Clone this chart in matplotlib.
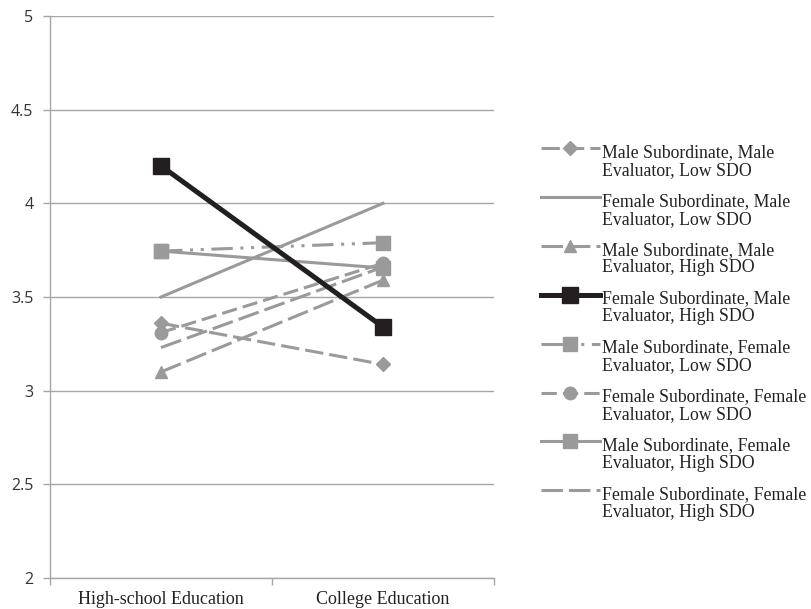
import matplotlib
matplotlib.use("Agg")
import matplotlib.pyplot as plt
from matplotlib.ticker import FixedLocator
from matplotlib.legend_handler import HandlerLine2D
from matplotlib.transforms import Affine2D

categories = ["High-school Education", "College Education"]

series_labels = [
    "Male Subordinate, Male\nEvaluator, Low SDO",
    "Female Subordinate, Male\nEvaluator, Low SDO",
    "Male Subordinate, Male\nEvaluator, High SDO",
    "Female Subordinate, Male\nEvaluator, High SDO",
    "Male Subordinate, Female\nEvaluator, Low SDO",
    "Female Subordinate, Female\nEvaluator, Low SDO",
    "Male Subordinate, Female\nEvaluator, High SDO",
    "Female Subordinate, Female\nEvaluator, High SDO",
]

ms_me_low = [3.36, 3.14]
fs_me_low = [3.50, 4.00]
ms_me_high = [3.10, 3.59]
fs_me_high = [4.20, 3.34]
ms_fe_low = [3.745, 3.79]
fs_fe_low = [3.31, 3.68]
ms_fe_high = [3.745, 3.655]
fs_fe_high = [3.23, 3.66]

yticks = [2, 2.5, 3, 3.5, 4, 4.5, 5]

GRAY = "#9a9a9a"
BLACK = "#231f20"
AXIS = "#a6a6a6"

styles = [
    dict(color=GRAY, lw=2.2, ls=(0, (6, 2)), marker="D", ms=7),
    dict(color=GRAY, lw=2.2, ls="-", marker=None),
    dict(color=GRAY, lw=2.2, ls=(0, (7, 2)), marker="^", ms=9),
    dict(color=BLACK, lw=3.6, ls="-", marker="s", ms=12),
    dict(color=GRAY, lw=2.2, ls=(0, (7, 2.5, 1, 2.5, 1, 2.5)), marker="s", ms=10),
    dict(color=GRAY, lw=2.2, ls=(0, (5, 2)), marker="o", ms=9),
    dict(color=GRAY, lw=2.2, ls="-", marker="s", ms=10),
    dict(color=GRAY, lw=2.2, ls=(0, (7, 2)), marker=None),
]

data = [ms_me_low, fs_me_low, ms_me_high, fs_me_high,
        ms_fe_low, fs_fe_low, ms_fe_high, fs_fe_high]


class FirstLineHandler(HandlerLine2D):
    """Line handle raised so it sits beside the first line of a two-line label."""

    def __init__(self, dy=9, **kw):
        super().__init__(**kw)
        self.dy = dy

    def create_artists(self, legend, orig_handle, xdescent, ydescent,
                       width, height, fontsize, trans):
        shifted = Affine2D().translate(0, self.dy) + trans
        return super().create_artists(legend, orig_handle, xdescent, ydescent,
                                      width, height, fontsize, shifted)


fig = plt.figure(figsize=(8.11, 6.09), dpi=100)
ax = fig.add_axes([50 / 811, 1 - 578 / 609, 444 / 811, 562 / 609])

x = list(range(len(categories)))
handles = []
for vals, st, lab in zip(data, styles, series_labels):
    h, = ax.plot(x, vals, color=st["color"], lw=st["lw"], ls=st["ls"],
                 marker=st["marker"], ms=st.get("ms", 0),
                 markerfacecolor=st["color"], markeredgecolor=st["color"],
                 label=lab, zorder=3 if st["color"] == BLACK else 2)
    handles.append(h)

ax.set_xlim(-0.5, 1.5)
ax.set_ylim(2, 5)
ax.set_yticks(yticks)
ax.set_yticklabels([f"{v:g}" for v in yticks], family="Open Sans", fontsize=11.5, color="#333333")
ax.yaxis.grid(True, color=AXIS, lw=1)
ax.set_axisbelow(True)

ax.set_xticks(x)
ax.set_xticklabels(categories, family="Liberation Serif", fontsize=13, color="#222222")
ax.xaxis.set_minor_locator(FixedLocator([-0.5, 0.5, 1.5]))
ax.tick_params(axis="x", which="major", length=0, pad=9)
ax.tick_params(axis="x", which="minor", length=5, color=AXIS, width=1)
ax.tick_params(axis="y", length=5, color=AXIS, width=1, pad=7)

for s in ["top", "right"]:
    ax.spines[s].set_visible(False)
for s in ["left", "bottom"]:
    ax.spines[s].set_color(AXIS)
    ax.spines[s].set_linewidth(1)

leg = fig.legend(handles=handles, loc="upper left", bbox_to_anchor=(541 / 811, 1 - 144 / 609),
                 frameon=False, prop={"family": "Liberation Serif", "size": 12.8},
                 handlelength=3.3, handletextpad=0.15, labelspacing=0.79,
                 borderaxespad=0, borderpad=0,
                 handler_map={h: FirstLineHandler(dy=9.5) for h in handles})
for t in leg.get_texts():
    t.set_linespacing(1.06)
    t.set_color("#222222")

fig.savefig("out.png", dpi=100)
